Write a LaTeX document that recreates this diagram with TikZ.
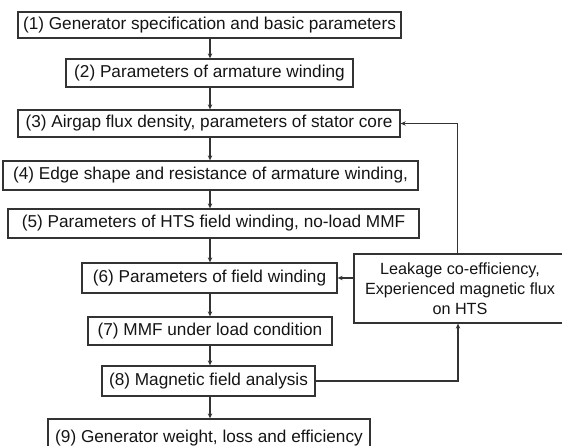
\documentclass[tikz,border=0pt]{standalone}
\usepackage{fontspec}
\setmainfont{Liberation Sans}
\usetikzlibrary{arrows.meta}
\definecolor{ink}{HTML}{333333}
\definecolor{txt}{HTML}{141414}
\begin{document}
\begin{tikzpicture}[x=1pt,y=-1pt,
  stepbox/.style={draw=ink, line width=1.3pt, inner sep=0pt, align=center,
    text=txt, font=\fontsize{17.2}{20}\selectfont},
  notebox/.style={stepbox, font=\fontsize{16.2}{20}\selectfont},
  flow/.style={draw=ink, line width=1.1pt, -{Stealth[length=5pt,width=4.5pt]}}]
\useasboundingbox (0,0) rectangle (562,446);
\clip (0,0) rectangle (562,446);

% design steps
\node[stepbox, minimum width=383pt, minimum height=26pt] (s1) at (209.5,25)
  {(1) Generator specification and basic parameters};
\node[stepbox, minimum width=287pt, minimum height=28pt] (s2) at (209.5,73)
  {(2) Parameters of armature winding};
\node[stepbox, minimum width=382pt, minimum height=27pt] (s3) at (209,123.5)
  {(3) Airgap flux density, parameters of stator core};
\node[stepbox, minimum width=415pt, minimum height=29pt] (s4) at (210.5,175.5)
  {(4) Edge shape and resistance of armature winding,};
\node[stepbox, minimum width=411pt, minimum height=29pt] (s5) at (213.5,223.5)
  {(5) Parameters of HTS field winding, no-load MMF};
\node[stepbox, minimum width=255pt, minimum height=30pt] (s6) at (209.5,278)
  {(6) Parameters of field winding};
\node[stepbox, minimum width=244pt, minimum height=28pt] (s7) at (210,331)
  {(7) MMF under load condition};
\node[stepbox, minimum width=213pt, minimum height=30pt] (s8) at (208.5,381)
  {(8) Magnetic field analysis};
\node[stepbox, minimum width=322pt, minimum height=38pt] (s9) at (209,438)
  {(9) Generator weight, loss and efficiency};

% feedback quantities
\node[notebox, minimum width=212pt, minimum height=69pt] (fb) at (460,288.5)
  {Leakage co-efficiency,\\Experienced magnetic flux\\on HTS};

% main chain
\coordinate (spine) at (210,0);
\foreach \a/\b in {s1/s2,s2/s3,s3/s4,s4/s5,s5/s6,s6/s7,s7/s8,s8/s9}
  \draw[flow] (\a.south -| spine) -- (\b.north -| spine);

% feedback loops
\draw[flow] ([xshift=-2.5pt]fb.north) |- (s3.east);
\draw[flow] (fb.west |- s6.east) -- (s6.east);
\draw[flow] (s8.east) -| ([xshift=-2pt]fb.south);
\end{tikzpicture}
\end{document}
